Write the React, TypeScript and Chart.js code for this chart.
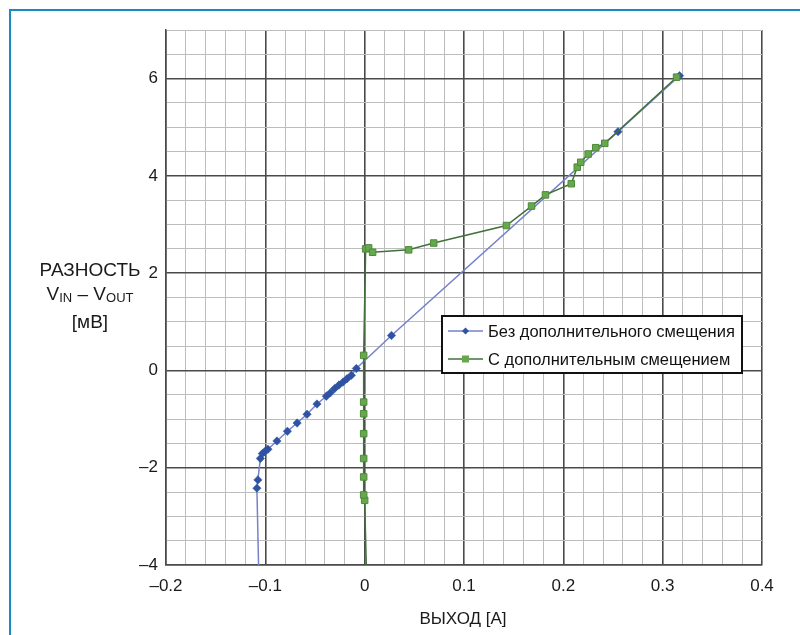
import React, { useEffect, useRef } from "react";
import { Chart, registerables } from "chart.js";

Chart.register(...registerables);

const seriesNames = ["Без дополнительного смещения", "С дополнительным смещением"];

const blueX = [-0.1065, -0.1085, -0.1075, -0.105, -0.103, -0.1007, -0.0974, -0.0883, -0.0778, -0.068, -0.058, -0.048, -0.0386, -0.0346, -0.0302, -0.0259, -0.0219, -0.0178, -0.0134, -0.0084, 0.027, 0.255, 0.317];
const blueY = [-4.3, -2.42, -2.25, -1.81, -1.71, -1.67, -1.62, -1.45, -1.25, -1.08, -0.9, -0.69, -0.53, -0.46, -0.37, -0.3, -0.24, -0.17, -0.1, 0.04, 0.72, 4.91, 6.06];

const greenX = [0.002, 0.0, -0.001, -0.001, -0.001, -0.001, -0.001, -0.001, -0.001, 0.001, 0.004, 0.008, 0.0443, 0.0695, 0.1427, 0.168, 0.182, 0.208, 0.214, 0.2175, 0.225, 0.2326, 0.2417, 0.314];
const greenY = [-4.3, -2.67, -2.56, -2.19, -1.81, -1.3, -0.89, -0.65, 0.31, 2.5, 2.52, 2.43, 2.48, 2.62, 2.98, 3.38, 3.61, 3.84, 4.18, 4.28, 4.45, 4.58, 4.67, 6.03];

const xTickLabels: Record<string, string> = {
  "-0.2": "–0.2", "-0.1": "–0.1", "0": "0", "0.1": "0.1", "0.2": "0.2", "0.3": "0.3", "0.4": "0.4",
};
const yTickLabels: Record<string, string> = {
  "-4": "–4", "-2": "–2", "0": "0", "2": "2", "4": "4", "6": "6",
};

const FONT = "'Liberation Sans', Arial, sans-serif";

const isMult = (v: number, step: number) => Math.abs(v / step - Math.round(v / step)) < 1e-6;

const legendPlugin = {
  id: "boxLegend",
  afterDraw(chart: any) {
    const ctx = chart.ctx;
    const x = 442, y = 316, w = 300, h = 57;
    ctx.save();
    ctx.fillStyle = "#fff";
    ctx.fillRect(x, y, w, h);
    ctx.strokeStyle = "#111";
    ctx.lineWidth = 2;
    ctx.strokeRect(x, y, w, h);
    const rows = [331, 359];
    chart.data.datasets.forEach((ds: any, i: number) => {
      const ry = rows[i];
      ctx.strokeStyle = ds.borderColor;
      ctx.lineWidth = 1.5;
      ctx.beginPath();
      ctx.moveTo(448, ry);
      ctx.lineTo(483, ry);
      ctx.stroke();
      ctx.fillStyle = ds.pointBackgroundColor;
      if (ds.pointStyle === "rect") {
        ctx.fillRect(462, ry - 3.5, 7, 7);
      } else {
        ctx.beginPath();
        ctx.moveTo(465.5, ry - 3.5);
        ctx.lineTo(469, ry);
        ctx.lineTo(465.5, ry + 3.5);
        ctx.lineTo(462, ry);
        ctx.closePath();
        ctx.fill();
      }
      ctx.fillStyle = "#111";
      ctx.font = "16.5px " + FONT;
      ctx.textBaseline = "middle";
      ctx.textAlign = "left";
      ctx.fillText(seriesNames[i], 488, ry + 1);
    });
    ctx.restore();
  },
};

export default function App() {
  const ref = useRef<HTMLCanvasElement>(null);
  useEffect(() => {
    if (!ref.current) return;
    const chart = new Chart(ref.current, {
      type: "scatter",
      data: {
        datasets: [
          {
            label: seriesNames[0],
            data: blueX.map((x, i) => ({ x, y: blueY[i] })),
            showLine: true,
            borderColor: "#7583cc",
            borderWidth: 1.5,
            pointStyle: "rectRot",
            pointBackgroundColor: "#2f53a3",
            pointBorderColor: "#2f53a3",
            pointBorderWidth: 0.5,
            pointRadius: (c: any) => (c.raw && c.raw.y < -4 ? 0 : 4.2),
            order: 2,
          } as any,
          {
            label: seriesNames[1],
            data: greenX.map((x, i) => ({ x, y: greenY[i] })),
            showLine: true,
            borderColor: "#41703a",
            borderWidth: 1.5,
            pointStyle: "rect",
            pointBackgroundColor: "#66a84c",
            pointBorderColor: "#4e8a3b",
            pointBorderWidth: 1,
            pointRadius: (c: any) => (c.raw && c.raw.y < -4 ? 0 : 4.6),
            order: 1,
          } as any,
        ],
      },
      options: {
        animation: false,
        responsive: false,
        maintainAspectRatio: false,
        layout: { padding: { left: 0, top: 30, right: 38, bottom: 0 } },
        plugins: { legend: { display: false }, tooltip: { enabled: false } },
        scales: {
          x: {
            type: "linear",
            min: -0.2,
            max: 0.4,
            afterFit: (s: any) => { s.height = 70; },
            ticks: {
              stepSize: 0.02,
              autoSkip: false,
              maxRotation: 0,
              padding: 11,
              color: "#1a1a1a",
              font: { family: FONT, size: 17 },
              callback: (v: any) => {
                const n = Number(v);
                if (!isMult(n, 0.1)) return "";
                const k = String(Math.round(n * 10) / 10);
                return xTickLabels[k] ?? "";
              },
            },
            grid: {
              drawTicks: false,
              color: (c: any) => (isMult(c.tick.value, 0.1) ? "#4a4a4a" : "#bdbdbd"),
              lineWidth: (c: any) => (isMult(c.tick.value, 0.1) ? 1.6 : 1),
            },
            border: { color: "#4a4a4a", width: 1.5 },
          },
          y: {
            type: "linear",
            min: -4,
            max: 7,
            afterFit: (s: any) => { s.width = 166; },
            ticks: {
              stepSize: 0.5,
              autoSkip: false,
              padding: 8,
              color: "#1a1a1a",
              font: { family: FONT, size: 17 },
              callback: (v: any) => {
                const n = Number(v);
                if (!isMult(n, 2)) return "";
                return yTickLabels[String(Math.round(n))] ?? "";
              },
            },
            grid: {
              drawTicks: false,
              color: (c: any) => (isMult(c.tick.value, 2) ? "#4a4a4a" : "#bdbdbd"),
              lineWidth: (c: any) => (isMult(c.tick.value, 2) ? 1.6 : 1),
            },
            border: { color: "#4a4a4a", width: 1.5 },
          },
        },
      } as any,
      plugins: [legendPlugin],
    });
    return () => chart.destroy();
  }, []);

  return (
    <div style={{ position: "absolute", left: 0, top: 0, width: 800, height: 635, background: "#fff", overflow: "hidden" }}>
      <div style={{ position: "absolute", left: 9, top: 9, width: 800, height: 640, borderLeft: "2px solid #178cbd", borderTop: "2px solid #178cbd" }} />
      <canvas ref={ref} width={800} height={635} style={{ position: "absolute", left: 0, top: 0 }} />
      <div style={{ position: "absolute", left: 15, top: 258, width: 150, textAlign: "center", fontFamily: FONT, fontSize: 19, lineHeight: "24px", color: "#1a1a1a" }}>
        <div>РАЗНОСТЬ</div>
        <div>V<sub style={{ fontSize: 13, verticalAlign: "-2px" }}>IN</sub> – V<sub style={{ fontSize: 13, verticalAlign: "-2px" }}>OUT</sub></div>
        <div>[мВ]</div>
      </div>
      <div style={{ position: "absolute", left: 363, top: 609, width: 200, textAlign: "center", fontFamily: FONT, fontSize: 17, color: "#1a1a1a" }}>ВЫХОД [A]</div>
    </div>
  );
}
